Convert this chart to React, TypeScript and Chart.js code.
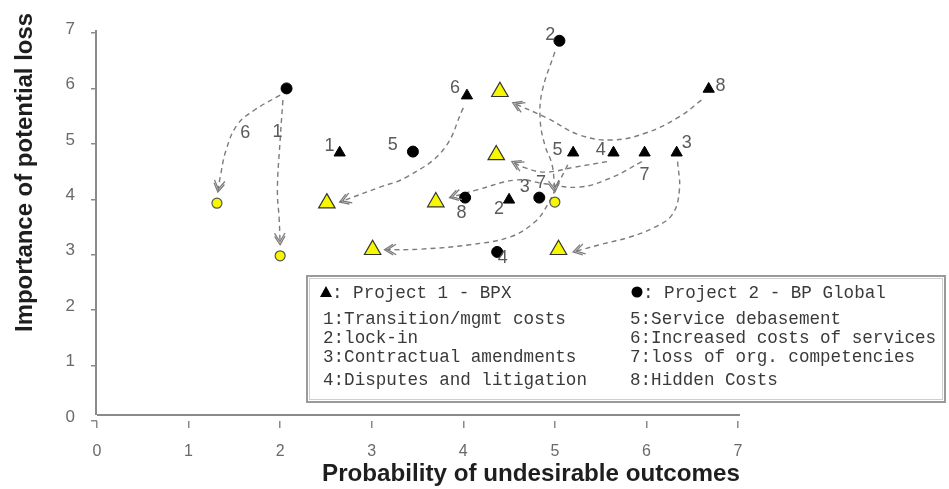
import React, { useEffect, useRef } from 'react';
import { Chart, registerables } from 'chart.js';

Chart.register(...registerables);

// ---------- data ----------
const axisMin = 0;
const axisMax = 7;

// Project 1 - BPX : current positions (black triangles)
const project1X = [2.65, 4.5, 6.33, 5.64, 5.2, 4.04, 5.98, 6.68];
const project1Y = [4.84, 3.99, 4.84, 4.84, 4.84, 5.87, 4.84, 5.99];

// Project 1 - BPX : moved positions (yellow triangles)
const project1MovedX = [2.51, 4.4, 4.36, 3.7, 3.01, 5.04];
const project1MovedY = [3.93, 5.94, 4.8, 3.95, 3.09, 3.09];

// Project 2 - BP Global : current positions (black circles)
const project2X = [2.07, 5.05, 3.45, 4.02, 4.83, 4.37];
const project2Y = [6.0, 6.86, 4.86, 4.03, 4.03, 3.05];

// Project 2 - BP Global : moved positions (yellow circles)
const project2MovedX = [1.31, 2.0, 5.0];
const project2MovedY = [3.93, 2.98, 3.95];

// risk number annotations (text + anchor in data units)
const numberTexts = ['1', '6', '5', '4', '7', '3', '8', '2', '6', '1', '2', '5', '8', '3', '7', '4'];
const numberX = [2.54, 3.91, 5.03, 5.5, 5.98, 6.44, 6.81, 4.39, 1.62, 1.97, 4.95, 3.23, 3.98, 4.67, 4.85, 4.43];
const numberY = [4.96, 6.01, 4.89, 4.89, 4.44, 5.02, 6.05, 3.83, 5.2, 5.22, 6.97, 4.98, 3.75, 4.22, 4.3, 2.94];

// movement arrows (dashed curves), points in data units, last point = arrow tip
const arrowPaths: [number, number][][] = [
  [[2.0, 5.88], [1.72, 5.61], [1.53, 5.34], [1.41, 4.89], [1.35, 4.44], [1.32, 4.13]],
  [[2.03, 5.79], [2.0, 5.07], [1.97, 4.17], [1.99, 3.63], [2.0, 3.18]],
  [[4.0, 5.65], [3.78, 4.89], [3.38, 4.4], [3.09, 4.22], [2.65, 3.95]],
  [[6.6, 5.79], [6.36, 5.49], [6.0, 5.2], [5.63, 5.07], [5.27, 5.16], [4.91, 5.47], [4.54, 5.74]],
  [[5.0, 6.66], [4.86, 5.94], [4.84, 5.43], [4.89, 4.98], [4.97, 4.62], [5.0, 4.13]],
  [[5.57, 4.68], [5.22, 4.58], [4.89, 4.49], [4.67, 4.57], [4.53, 4.68]],
  [[5.95, 4.68], [5.63, 4.4], [5.27, 4.22], [4.89, 4.28], [4.59, 4.35], [4.15, 4.17], [3.85, 4.03]],
  [[5.14, 4.62], [5.03, 4.26], [4.92, 3.9], [4.78, 3.59], [4.51, 3.32], [4.07, 3.18], [3.53, 3.1], [3.14, 3.09]],
  [[6.34, 4.68], [6.36, 4.17], [6.28, 3.72], [6.07, 3.48], [5.82, 3.32], [5.49, 3.18], [5.2, 3.05]],
];

// legend text
const legendHeaders = [': Project 1 - BPX', ': Project 2 - BP Global'];
const legendLeft = ['1:Transition/mgmt costs', '2:lock-in', '3:Contractual amendments', '4:Disputes and litigation'];
const legendRight = ['5:Service debasement', '6:Increased costs of services', '7:loss of org. competencies', '8:Hidden Costs'];

const xTitle = 'Probability of undesirable outcomes';
const yTitle = 'Importance of potential loss';

// ---------- styles ----------
const SANS = '"Liberation Sans", Arial, sans-serif';
const MONO = '"Liberation Mono", "Courier New", monospace';
const AXIS_GRAY = '#8a8a8a';
const TICK_TEXT = '#6a6a6a';
const ARROW_GRAY = '#7c7c7c';
const YELLOW = '#f7f700';

const toPts = (xs: number[], ys: number[]) => xs.map((v, i) => ({ x: v, y: ys[i] }));

const overlayPlugin = {
  id: 'overlay',
  beforeDatasetsDraw(chart: any) {
    const { ctx, scales } = chart;
    const xs = scales.x;
    const ys = scales.y;
    const left = xs.getPixelForValue(axisMin);
    const right = xs.getPixelForValue(axisMax);
    const top = ys.getPixelForValue(axisMax);
    const bottom = ys.getPixelForValue(axisMin);
    const axisY = bottom - 6;
    ctx.save();
    ctx.strokeStyle = AXIS_GRAY;
    ctx.lineWidth = 2;
    ctx.beginPath();
    ctx.moveTo(left - 1, top - 3);
    ctx.lineTo(left - 1, axisY);
    ctx.moveTo(left, axisY);
    ctx.lineTo(right + 2, axisY);
    ctx.stroke();
    ctx.restore();
  },
  afterDatasetsDraw(chart: any) {
    const { ctx, scales } = chart;
    const xs = scales.x;
    const ys = scales.y;
    ctx.save();

    // arrow heads
    ctx.strokeStyle = ARROW_GRAY;
    ctx.lineWidth = 1.3;
    ctx.setLineDash([]);
    arrowPaths.forEach((path) => {
      const n = path.length;
      const ax = xs.getPixelForValue(path[n - 2][0]);
      const ay = ys.getPixelForValue(path[n - 2][1]);
      const bx = xs.getPixelForValue(path[n - 1][0]);
      const by = ys.getPixelForValue(path[n - 1][1]);
      const ang = Math.atan2(by - ay, bx - ax);
      const len = 10;
      const spread = 0.55;
      for (let k = 0; k < 2; k++) {
        const tx = bx - Math.cos(ang) * k * 3;
        const ty = by - Math.sin(ang) * k * 3;
        ctx.beginPath();
        ctx.moveTo(tx - len * Math.cos(ang - spread), ty - len * Math.sin(ang - spread));
        ctx.lineTo(tx, ty);
        ctx.lineTo(tx - len * Math.cos(ang + spread), ty - len * Math.sin(ang + spread));
        ctx.stroke();
      }
    });

    // number annotations
    ctx.fillStyle = '#5a5a5a';
    ctx.font = `18px ${SANS}`;
    ctx.textAlign = 'center';
    ctx.textBaseline = 'middle';
    numberTexts.forEach((t, i) => {
      ctx.fillText(t, xs.getPixelForValue(numberX[i]), ys.getPixelForValue(numberY[i]));
    });

    // legend box
    const bx0 = 307, by0 = 276, bx1 = 945, by1 = 402;
    ctx.fillStyle = '#ffffff';
    ctx.fillRect(bx0, by0, bx1 - bx0, by1 - by0);
    ctx.strokeStyle = '#9a9a9a';
    ctx.lineWidth = 2;
    ctx.strokeRect(bx0, by0, bx1 - bx0, by1 - by0);
    ctx.strokeStyle = '#cfcfcf';
    ctx.lineWidth = 1;
    ctx.strokeRect(bx0 + 2.5, by0 + 2.5, bx1 - bx0 - 5, by1 - by0 - 5);

    // legend header symbols
    ctx.fillStyle = '#000';
    ctx.beginPath();
    ctx.moveTo(326, 286);
    ctx.lineTo(332, 297);
    ctx.lineTo(320, 297);
    ctx.closePath();
    ctx.fill();
    ctx.beginPath();
    ctx.arc(637, 292, 5.5, 0, Math.PI * 2);
    ctx.fill();

    ctx.fillStyle = '#3a3a3a';
    ctx.font = `17.6px ${MONO}`;
    ctx.textAlign = 'left';
    ctx.textBaseline = 'middle';
    ctx.fillText(legendHeaders[0], 332, 293);
    ctx.fillText(legendHeaders[1], 643, 293);
    const rowY = [319, 338, 357, 380];
    legendLeft.forEach((t, i) => ctx.fillText(t, 323, rowY[i]));
    legendRight.forEach((t, i) => ctx.fillText(t, 630, rowY[i]));

    ctx.restore();
  },
  afterDraw(chart: any) {
    const { ctx, scales } = chart;
    const xs = scales.x;
    ctx.save();
    ctx.fillStyle = '#1e1e1e';
    ctx.font = `bold 24px ${SANS}`;
    ctx.textBaseline = 'middle';
    // x title, right aligned with the last tick
    const xw = ctx.measureText(xTitle).width;
    const xTarget = 418;
    const xRight = xs.getPixelForValue(axisMax) + 2;
    ctx.save();
    ctx.translate(xRight - xTarget, 474);
    ctx.scale(xTarget / xw, 1);
    ctx.textAlign = 'left';
    ctx.fillText(xTitle, 0, 0);
    ctx.restore();
    // y title
    const yw = ctx.measureText(yTitle).width;
    const yTarget = 319;
    ctx.save();
    ctx.translate(25, 172.5);
    ctx.rotate(-Math.PI / 2);
    ctx.scale(yTarget / yw, 1);
    ctx.textAlign = 'center';
    ctx.fillText(yTitle, 0, 0);
    ctx.restore();
    ctx.restore();
  },
};

export default function App() {
  const canvasRef = useRef<HTMLCanvasElement | null>(null);

  useEffect(() => {
    if (!canvasRef.current) return;
    const lineSets = arrowPaths.map((path) => ({
      data: path.map(([a, b]) => ({ x: a, y: b })),
      showLine: true,
      tension: 0.4,
      pointRadius: 0,
      borderColor: ARROW_GRAY,
      borderWidth: 1.4,
      borderDash: [5, 4],
      fill: false,
      order: 1,
    }));
    const chart = new Chart(canvasRef.current, {
      type: 'scatter',
      data: {
        datasets: [
          {
            data: toPts(project1X, project1Y),
            pointStyle: 'triangle',
            pointRadius: 6.5,
            backgroundColor: '#000',
            borderColor: '#000',
            borderWidth: 1,
            order: 0,
          },
          {
            data: toPts(project2X, project2Y),
            pointStyle: 'circle',
            pointRadius: 5.5,
            backgroundColor: '#000',
            borderColor: '#000',
            borderWidth: 1,
            order: 0,
          },
          {
            data: toPts(project1MovedX, project1MovedY),
            pointStyle: 'triangle',
            pointRadius: 9.5,
            backgroundColor: YELLOW,
            borderColor: '#333',
            borderWidth: 1.2,
            order: 0,
          },
          {
            data: toPts(project2MovedX, project2MovedY),
            pointStyle: 'circle',
            pointRadius: 5,
            backgroundColor: YELLOW,
            borderColor: '#555',
            borderWidth: 1.2,
            order: 0,
          },
          ...lineSets,
        ] as any,
      },
      options: {
        animation: false,
        responsive: true,
        maintainAspectRatio: false,
        events: [],
        layout: { padding: { left: 0, top: 33, right: 211, bottom: 0 } },
        plugins: {
          legend: { display: false },
          tooltip: { enabled: false },
          title: { display: false },
        },
        scales: {
          x: {
            type: 'linear',
            min: axisMin,
            max: axisMax,
            border: { display: false },
            grid: { drawOnChartArea: false, drawTicks: true, tickLength: 7, color: AXIS_GRAY, lineWidth: 1.5 },
            ticks: { stepSize: 1, color: TICK_TEXT, font: { size: 16, family: SANS }, padding: 14 },
            afterFit: (s: any) => {
              s.height = 68;
            },
          },
          y: {
            type: 'linear',
            min: axisMin,
            max: axisMax,
            border: { display: false },
            grid: { drawOnChartArea: false, drawTicks: true, tickLength: 6, color: AXIS_GRAY, lineWidth: 1.5 },
            ticks: { stepSize: 1, color: TICK_TEXT, font: { size: 17, family: SANS }, padding: 16, labelOffset: -4 },
            afterFit: (s: any) => {
              s.width = 97;
            },
          },
        },
      } as any,
      plugins: [overlayPlugin],
    });
    return () => chart.destroy();
  }, []);

  return (
    <div style={{ position: 'fixed', left: 0, top: 0, width: 949, height: 489, background: '#fff' }}>
      <canvas ref={canvasRef} />
    </div>
  );
}
